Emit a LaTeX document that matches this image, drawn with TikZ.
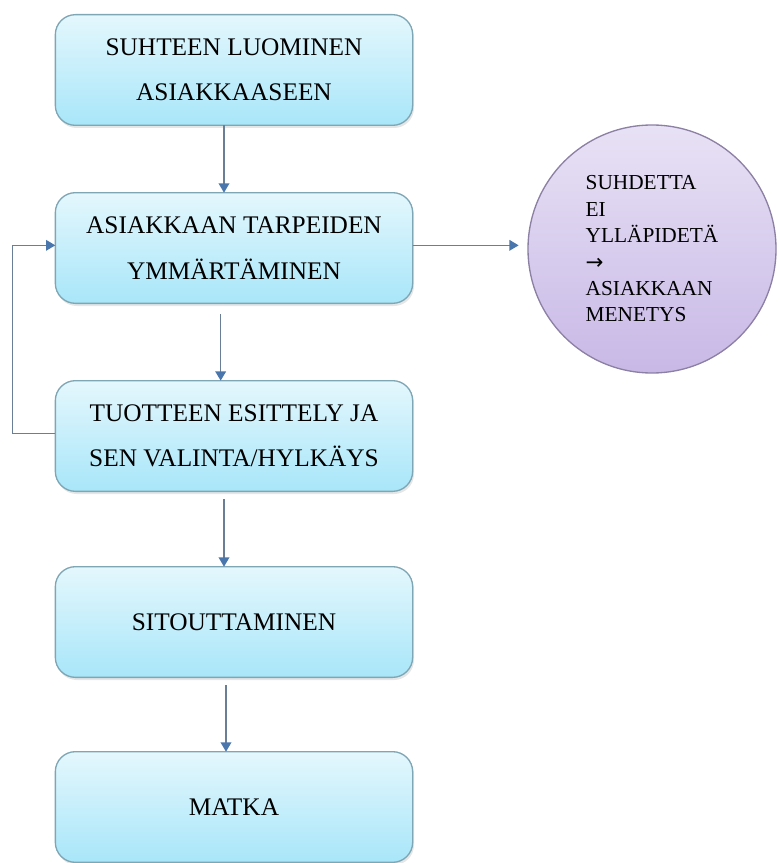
\documentclass[tikz,border=0pt]{standalone}
\usepackage{fontspec}
\setmainfont{Liberation Serif}
\newfontfamily\arrowfont{DejaVu Sans}
\usetikzlibrary{arrows.meta,shadows}
\definecolor{boxtop}{HTML}{E4F7FD}
\definecolor{boxbot}{HTML}{A8E6F9}
\definecolor{boxline}{HTML}{7FA6B4}
\definecolor{circtop}{HTML}{E8E2F5}
\definecolor{circbot}{HTML}{C8B8E6}
\definecolor{circline}{HTML}{8C80A4}
\definecolor{flowline}{HTML}{6A7E98}
\definecolor{flowtip}{HTML}{4A76AE}
\begin{document}
\begin{tikzpicture}[x=0.75pt,y=-0.75pt,inner sep=0pt,outer sep=0pt,
stepbox/.style={draw=boxline,line width=1pt,rectangle,rounded corners=15pt,minimum width=268pt,minimum height=83pt,
  top color=boxtop,bottom color=boxbot,align=center,font=\fontsize{19}{34}\selectfont,
  drop shadow={opacity=0.2,shadow xshift=1pt,shadow yshift=-2pt}},
lossball/.style={draw=circline,line width=1pt,circle,minimum size=186pt,
  top color=circtop,bottom color=circbot,align=left,font=\fontsize{16}{19.8}\selectfont},
flow/.style={draw=flowline,line width=1.1pt,-{Triangle[width=8pt,length=7pt,color=flowtip]}}]
\useasboundingbox (0,0) rectangle (779,863);
\draw (234,70) node[stepbox] (luominen) {SUHTEEN LUOMINEN\\ASIAKKAASEEN};
\draw (234,248) node[stepbox] (tarpeet) {ASIAKKAAN TARPEIDEN\\YMMÄRTÄMINEN};
\draw (234,436) node[stepbox] (esittely) {TUOTTEEN ESITTELY JA\\SEN VALINTA/HYLKÄYS};
\draw (234,622) node[stepbox] (sitout) {SITOUTTAMINEN};
\draw (234,807) node[stepbox] (matka) {MATKA};
\draw (652,249) node[lossball] (menetys) {SUHDETTA\\EI\\YLLÄPIDETÄ\\{\arrowfont →}\\ASIAKKAAN\\MENETYS};

\draw[flow] ([xshift=-7.5pt]luominen.south) -- ([xshift=-7.5pt]tarpeet.north);
\draw[flow,shorten <=8pt] ([xshift=-10pt]tarpeet.south) -- ([xshift=-10pt]esittely.north);
\draw[flow,shorten <=6pt] ([xshift=-7.5pt]esittely.south) -- ([xshift=-7.5pt]sitout.north);
\draw[flow,shorten <=6pt] ([xshift=-6pt]sitout.south) -- ([xshift=-6pt]matka.north);
\draw[flow,shorten >=7pt] ([yshift=2pt]tarpeet.east) -- ([yshift=2pt]tarpeet.east -| menetys.west);
\draw[flow] ([yshift=2pt]esittely.west) -- ++(-43,0) |- ([yshift=2pt]tarpeet.west);
\end{tikzpicture}
\end{document}
